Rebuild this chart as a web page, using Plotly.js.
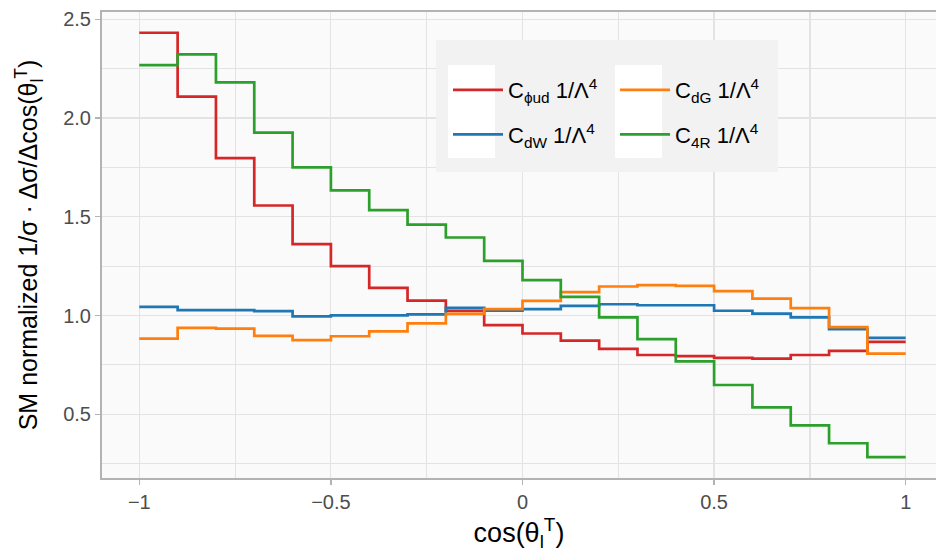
<!DOCTYPE html>
<html>
<head>
<meta charset="utf-8">
<script src="https://cdn.plot.ly/plotly-3.0.1.min.js"></script>
<style>html,body{margin:0;padding:0;background:#fff;}#chart{width:936px;height:554px;}</style>
</head>
<body>
<div id="chart"></div>
<script>
// bin edges of cos(theta_l^T)
const binEdges = [-1.0,-0.9,-0.8,-0.7,-0.6,-0.5,-0.4,-0.3,-0.2,-0.1,0.0,0.1,0.2,0.3,0.4,0.5,0.6,0.7,0.8,0.9,1.0];
// SM-normalized values per bin
const cPhiUd = [2.432,2.108,1.797,1.557,1.361,1.250,1.140,1.075,1.023,0.951,0.909,0.873,0.831,0.800,0.794,0.785,0.782,0.800,0.821,0.866];
const cDW    = [1.044,1.027,1.027,1.022,0.996,1.001,1.001,1.006,1.039,1.024,1.032,1.049,1.057,1.052,1.052,1.024,1.010,0.991,0.931,0.887];
const cDG    = [0.883,0.937,0.934,0.897,0.875,0.895,0.920,0.960,1.008,1.032,1.074,1.118,1.147,1.154,1.150,1.123,1.086,1.037,0.941,0.807];
const c4R    = [2.268,2.322,2.181,1.926,1.750,1.634,1.534,1.460,1.395,1.277,1.179,1.094,0.991,0.880,0.768,0.648,0.535,0.444,0.353,0.283];
const seriesNames = ["C<sub>\u03d5ud</sub> 1/\u039b<sup>4</sup>", "C<sub>dW</sub> 1/\u039b<sup>4</sup>", "C<sub>dG</sub> 1/\u039b<sup>4</sup>", "C<sub>4R</sub> 1/\u039b<sup>4</sup>"];
const seriesColors = ["#d62728", "#1f77b4", "#ff7f0e", "#2ca02c"];
const xTickVals = [-1, -0.5, 0, 0.5, 1];
const yTickVals = [0.5, 1.0, 1.5, 2.0, 2.5];

const allSeries = [cPhiUd, cDW, cDG, c4R];
const legendOf = ["legend", "legend", "legend2", "legend2"];
const traces = allSeries.map((vals, i) => ({
  type: "scatter",
  mode: "lines",
  x: binEdges,
  y: vals.concat([vals[vals.length - 1]]),
  line: {shape: "hv", color: seriesColors[i], width: 2.7},
  name: seriesNames[i],
  legend: legendOf[i],
  legendgroup: "g" + i,
  hoverinfo: "skip"
}));

// pixel -> paper helpers (plot area: x 102..936, y 12..477.7)
const L = 102, R = 936, T = 12, B = 477.7;
const px = v => (v - L) / (R - L);
const py = v => (B - v) / (B - T);

const FONT = "Liberation Sans, Arial, Helvetica, sans-serif";
const legendCommon = {
  xref: "paper", yref: "paper", xanchor: "left", yanchor: "top",
  bgcolor: "rgba(0,0,0,0)", borderwidth: 0,
  font: {family: FONT, size: 22, color: "#000"},
  itemwidth: 50, tracegroupgap: 13, orientation: "v",
  itemclick: false, itemdoubleclick: false
};

const layout = {
  width: 936, height: 554,
  margin: {l: L, r: 0, t: T, b: 554 - B, pad: 0, autoexpand: false},
  paper_bgcolor: "#ffffff",
  plot_bgcolor: "#fafafa",
  font: {family: FONT, color: "#4d4d4d"},
  showlegend: true,
  xaxis: {
    automargin: false,
    range: [-1 - 37.3 / 383.2, -1 - 37.3 / 383.2 + 834 / 383.2],
    tickvals: xTickVals,
    ticks: "outside", ticklen: 5, tickwidth: 1.3, tickcolor: "#b3b3b3",
    tickfont: {size: 20, color: "#4d4d4d"},
    showgrid: true, gridcolor: "#e3e3e3", gridwidth: 1.2,
    minor: {dtick: 0.25, tick0: 0, showgrid: true, gridcolor: "#e3e3e3", gridwidth: 1.2},
    showline: true, mirror: true, linecolor: "#b3b3b3", linewidth: 2,
    zeroline: false,
    title: {text: "cos(\u03b8<sub>l</sub><sup>T</sup>)", font: {size: 27, color: "#000"}, standoff: 11}
  },
  yaxis: {
    automargin: false,
    range: [0.5 - 63.7 / 197.3, 2.5 + 7.3 / 197.3],
    tickvals: yTickVals, tickformat: ".1f",
    ticks: "outside", ticklen: 5, tickwidth: 1.3, tickcolor: "#b3b3b3",
    tickfont: {size: 20, color: "#4d4d4d"},
    showgrid: true, gridcolor: "#e3e3e3", gridwidth: 1.2,
    minor: {dtick: 0.25, tick0: 0, showgrid: true, gridcolor: "#e3e3e3", gridwidth: 1.2},
    showline: true, mirror: false, linecolor: "#b3b3b3", linewidth: 2,
    zeroline: false,
    title: {text: "SM normalized 1/\u03c3 \u00b7 \u0394\u03c3/\u0394cos(\u03b8<sub>l</sub><sup>T</sup>)", font: {size: 25, color: "#000"}, standoff: 18}
  },
  legend: Object.assign({}, legendCommon, {x: px(448), y: py(69)}),
  legend2: Object.assign({}, legendCommon, {x: px(615), y: py(69)}),
  shapes: [
    {type: "rect", xref: "paper", yref: "paper", layer: "above", x0: px(436), x1: px(778), y0: py(172), y1: py(40), fillcolor: "#f2f2f2", line: {width: 0}},
    {type: "rect", xref: "paper", yref: "paper", layer: "above", x0: px(448), x1: px(495), y0: py(158), y1: py(65), fillcolor: "#ffffff", line: {width: 0}},
    {type: "rect", xref: "paper", yref: "paper", layer: "above", x0: px(615), x1: px(662), y0: py(158), y1: py(65), fillcolor: "#ffffff", line: {width: 0}}
  ]
};

Plotly.newPlot("chart", traces, layout, {staticPlot: true, displayModeBar: false});
</script>
</body>
</html>
